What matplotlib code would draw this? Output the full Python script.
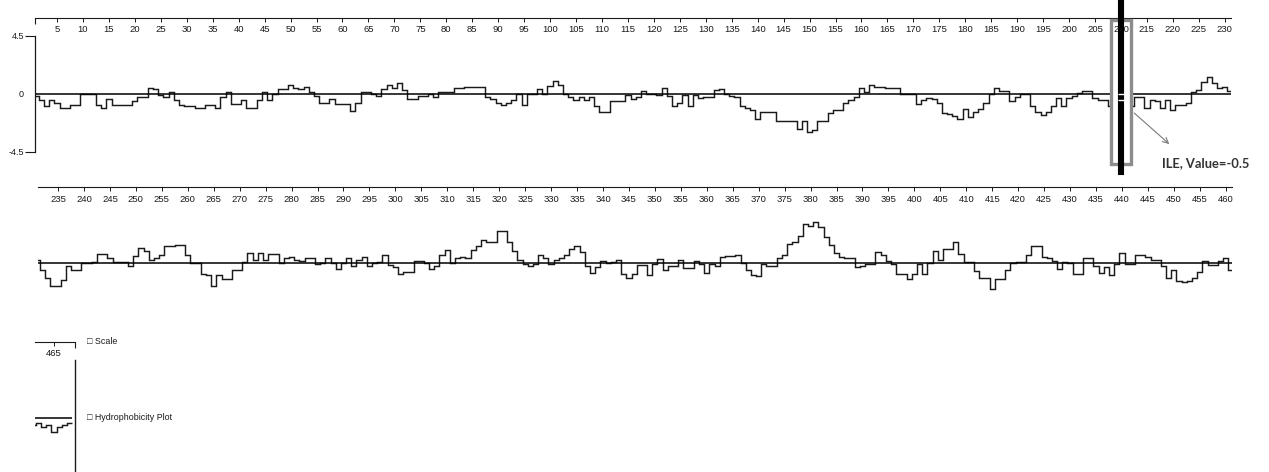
import numpy as np
import matplotlib
matplotlib.use("Agg")
import matplotlib.pyplot as plt
from matplotlib.patches import Rectangle
from matplotlib.transforms import offset_copy

# ── hydrophobicity values, one per residue ────────────────────────────────
hydro_row1 = [  # residues 1-231
    -0.2, -0.5, -1.0, -0.5, -0.7, -1.1, -1.1, -0.9, -0.9, 0.0,
    0.0, 0.0, -0.9, -1.1, -0.4, -0.9, -0.9, -0.9, -0.9, -0.6,
    -0.25, -0.25, 0.4, 0.35, -0.1, -0.3, 0.1, -0.5, -0.9, -0.95,
    -0.95, -1.1, -1.1, -0.9, -0.9, -1.1, -0.25, 0.1, -0.8, -0.8,
    -0.5, -1.1, -1.1, -0.5, 0.1, -0.5, 0.0, 0.35, 0.35, 0.7,
    0.4, 0.35, 0.55, 0.1, -0.15, -0.7, -0.7, -0.45, -0.8, -0.8,
    -0.8, -1.35, -0.7, 0.15, 0.1, -0.05, -0.15, 0.35, 0.65, 0.4,
    0.8, 0.3, -0.4, -0.4, -0.2, -0.2, -0.05, -0.3, 0.15, 0.15,
    0.15, 0.4, 0.4, 0.5, 0.5, 0.5, 0.5, -0.25, -0.45, -0.7,
    -0.9, -0.7, -0.5, 0.0, -0.9, 0.0, 0.0, 0.35, 0.0, 0.6,
    0.95, 0.65, -0.05, -0.25, -0.5, -0.25, -0.5, -0.25, -1.0, -1.45,
    -1.45, -0.55, -0.55, -0.55, -0.1, -0.45, -0.3, 0.2, 0.0, 0.0,
    -0.1, 0.45, -0.15, -1.0, -0.75, -0.1, -0.95, -0.1, -0.35, -0.3,
    -0.25, 0.25, 0.35, 0.0, -0.15, -0.3, -1.0, -1.15, -1.25, -2.0,
    -1.45, -1.45, -1.45, -2.1, -2.1, -2.1, -2.1, -2.75, -2.1, -3.0,
    -2.8, -2.1, -2.1, -1.5, -1.3, -1.25, -0.7, -0.5, -0.3, 0.4,
    0.1, 0.7, 0.5, 0.5, 0.45, 0.45, 0.45, 0.0, -0.05, -0.05,
    -0.8, -0.5, -0.35, -0.45, -0.75, -1.5, -1.6, -1.7, -2.0, -1.2,
    -1.8, -1.45, -1.2, -0.7, 0.0, 0.45, 0.2, 0.2, -0.55, -0.25,
    0.0, 0.0, -1.0, -1.4, -1.65, -1.4, -1.0, -0.35, -1.0, -0.35,
    -0.2, 0.05, 0.2, 0.2, -0.35, -0.5, -0.5, -1.0, -0.5, -0.5,
    -0.5, -1.0, -0.25, -0.25, -1.1, -0.5, -0.55, -1.15, -0.5, -1.3,
    -0.9, -0.85, -0.7, 0.1, 0.3, 0.9, 1.3, 0.8, 0.4, 0.5,
    0.2,
]
hydro_row2 = [  # residues 232-461
    -0.55, -1.2, -1.75, -1.75, -1.35, -0.25, -0.55, -0.55, 0.0, 0.0,
    0.1, 0.7, 0.7, 0.4, 0.1, 0.1, 0.05, -0.25, 0.55, 1.2,
    0.9, 0.2, 0.35, 0.65, 1.3, 1.3, 1.4, 1.4, 0.6, 0.0,
    0.0, -0.85, -0.95, -1.75, -0.95, -1.25, -1.25, -0.55, -0.55, 0.1,
    0.8, 0.2, 0.8, 0.2, 0.7, 0.7, 0.0, 0.35, 0.45, 0.2,
    0.15, 0.35, 0.35, -0.1, 0.0, 0.4, 0.0, -0.45, 0.0, 0.35,
    -0.2, 0.2, 0.45, -0.2, 0.0, 0.05, 0.6, -0.15, -0.3, -0.85,
    -0.7, -0.7, 0.15, 0.15, 0.0, -0.5, -0.2, 0.65, 1.0, 0.0,
    0.4, 0.5, 0.35, 1.0, 1.35, 1.75, 1.6, 1.65, 2.45, 2.45,
    1.65, 0.9, 0.2, -0.05, -0.25, -0.05, 0.6, 0.35, -0.05, 0.2,
    0.35, 0.6, 1.05, 1.3, 0.85, -0.2, -0.75, -0.3, 0.15, 0.0,
    0.1, 0.2, -0.85, -1.15, -0.85, -0.15, -0.15, -0.95, -0.05, 0.3,
    -0.55, -0.2, -0.2, 0.2, -0.4, -0.4, 0.15, -0.05, -0.75, -0.05,
    -0.2, 0.45, 0.55, 0.55, 0.6, 0.0, -0.55, -0.95, -1.0, -0.05,
    -0.2, -0.2, 0.35, 0.6, 1.5, 1.65, 2.1, 3.05, 2.9, 3.2,
    2.8, 2.0, 1.4, 0.75, 0.45, 0.35, 0.35, -0.3, -0.2, -0.1,
    -0.1, 0.85, 0.65, 0.15, -0.05, -0.85, -0.85, -1.25, -0.85, -0.05,
    -0.85, 0.0, 0.9, 0.2, 1.1, 1.1, 1.6, 0.7, 0.1, 0.1,
    -0.65, -1.2, -1.2, -2.05, -1.25, -1.25, -0.55, 0.0, 0.05, 0.1,
    0.6, 1.35, 1.35, 0.5, 0.35, 0.15, -0.5, 0.05, 0.0, -0.85,
    -0.85, 0.4, 0.4, -0.2, -0.75, -0.3, -0.95, -0.05, 0.8, -0.05,
    -0.05, 0.6, 0.6, 0.45, 0.2, 0.2, -0.2, -1.15, -0.55, -1.4,
    -1.45, -1.4, -1.15, -0.7, 0.15, -0.15, -0.15, 0.15, 0.35, -0.55,
]
hydro_row3 = [-0.4, -0.7, -0.55, -1.1, -0.7, -0.55, -0.4]  # residues 462-468

hydro = np.array(hydro_row1 + hydro_row2 + hydro_row3)
edges = np.arange(0.5, len(hydro) + 1.0)

row_ticks = [np.arange(5, 231, 5), np.arange(235, 461, 5), [465]]
y_ticks = [-4.5, 4.5]
sel_res, sel_name = 210, "ILE"
sel_val = hydro[sel_res - 1]
legend_labels = ["Scale", "Hydrophobicity Plot"]

# ── layout (pixels of the 1269x472 picture) ───────────────────────────────
W, H = 1269, 472
rows = [
    dict(x0=35, x1=1231, xlim=(0.76, 231.2), scale_y=18, mid=93.6),
    dict(x0=37.8, x1=1232, xlim=(231.1, 461.2), scale_y=187.3, mid=263),
    dict(x0=35, x1=75, xlim=(461.34, 469.05), scale_y=342, mid=418),
]
HALF = 58  # px for 4.5 units

INK = "#1a1a1a"
FONT = ["Liberation Sans", "DejaVu Sans"]

fig = plt.figure(figsize=(W / 100, H / 100), dpi=100)


def px_axes(x0, x1, ytop, ybot):
    return fig.add_axes([x0 / W, 1 - ybot / H, (x1 - x0) / W, (ybot - ytop) / H])


plot_axes = []
for i, row in enumerate(rows):
    # scale (residue number) axis
    sa = px_axes(row["x0"], row["x1"], row["scale_y"] - 1, row["scale_y"])
    sa.set_facecolor("none")
    for s in ("top", "left", "right"):
        sa.spines[s].set_visible(False)
    sa.spines["bottom"].set_color(INK)
    sa.spines["bottom"].set_linewidth(0.8)
    sa.set_xlim(row["xlim"])
    sa.set_yticks([])
    sa.set_xticks(row_ticks[i])
    sa.tick_params(axis="x", direction="out", length=3, width=0.7, color=INK,
                   pad=2.2, labelsize=6.8, labelcolor=INK)
    for lab in sa.get_xticklabels():
        lab.set_family(FONT)
    if i == 0:
        sa.set_xticks([row["xlim"][0]], minor=True)
    if i == 2:
        sa.set_xticks([row["xlim"][1]], minor=True)
    sa.tick_params(axis="x", which="minor", direction="out", length=4.5,
                   width=0.8, color=INK)

    # hydrophobicity step plot
    ax = px_axes(row["x0"], row["x1"], row["mid"] - HALF, row["mid"] + HALF)
    ax.set_facecolor("none")
    ax.set_xlim(row["xlim"])
    ax.set_ylim(-4.5, 4.5)
    ax.set_xticks([])
    for s in ax.spines.values():
        s.set_visible(False)
    ax.set_yticks([])
    ax.stairs(hydro, edges, baseline=None, color=INK, lw=1.05, zorder=2)
    if i < 2:
        ax.axhline(0, color="black", lw=1.1, zorder=2)
    else:
        ax.hlines(0, row["xlim"][0], edges[-1], color="black", lw=1.1, zorder=2)
    plot_axes.append(ax)

# row 1 value axis
ax1 = plot_axes[0]
ax1.spines["left"].set_visible(True)
ax1.spines["left"].set_color(INK)
ax1.spines["left"].set_linewidth(0.9)
ax1.set_yticks(y_ticks)
ax1.set_yticklabels([f"{v:g}" for v in y_ticks])
ax1.set_yticks([0], minor=True)
ax1.set_yticklabels(["0"], minor=True)
ax1.tick_params(axis="y", which="major", direction="out", length=7, width=0.8,
                color=INK, pad=0.5, labelsize=6.5, labelcolor=INK)
ax1.tick_params(axis="y", which="minor", length=0, pad=8, labelsize=6.5,
                labelcolor=INK)
for lab in ax1.get_yticklabels() + ax1.get_yticklabels(minor=True):
    lab.set_family(FONT)

# row 3 right border
ax3 = plot_axes[2]
ax3.spines["right"].set_visible(True)
ax3.spines["right"].set_color(INK)
ax3.spines["right"].set_linewidth(1.0)

# ── selected residue highlight ────────────────────────────────────────────
ax1.add_patch(Rectangle((sel_res - 1.85, -4.5), 3.7, 9.0, facecolor="white",
                        edgecolor="none", zorder=3))
ax1.add_patch(Rectangle((sel_res - 1.85, -5.45), 3.7, 11.16, facecolor="none",
                        edgecolor="#8c8c8c", lw=2.4, clip_on=False, zorder=4))
ax1.axvline(sel_res, ymin=-0.175, ymax=1.31, color="black", lw=4.4,
            clip_on=False, zorder=5)
ax1.hlines([0, sel_val], sel_res - 0.6, sel_res + 0.6, color="white", lw=1.0,
           zorder=6)

tail = offset_copy(ax1.transData, fig=fig, x=9.6, y=-9.4, units="points")
tip = offset_copy(ax1.transData, fig=fig, x=34.8, y=-31.7, units="points")
ax1.annotate("", xy=(sel_res, sel_val), xycoords=tip,
             xytext=(sel_res, sel_val), textcoords=tail,
             arrowprops=dict(arrowstyle="->", color="#7a7a7a", lw=0.8,
                             mutation_scale=10, shrinkA=0, shrinkB=0),
             annotation_clip=False)
ax1.annotate(f"{sel_name}, Value={sel_val:g}", xy=(sel_res, sel_val),
             xytext=(29.7, -45.3), textcoords="offset points",
             ha="left", va="center", fontsize=9.3, color="#333333",
             family=["Lato", "DejaVu Sans"], fontweight="bold",
             annotation_clip=False)

# ── legend ────────────────────────────────────────────────────────────────
for label, ypx in zip(legend_labels, [rows[2]["scale_y"], rows[2]["mid"]]):
    fig.text(87 / W, 1 - ypx / H, "\u25a1 " + label, ha="left", va="center",
             fontsize=6.4, color=INK, family=FONT)

fig.savefig("out.png", dpi=100)
plt.close(fig)
